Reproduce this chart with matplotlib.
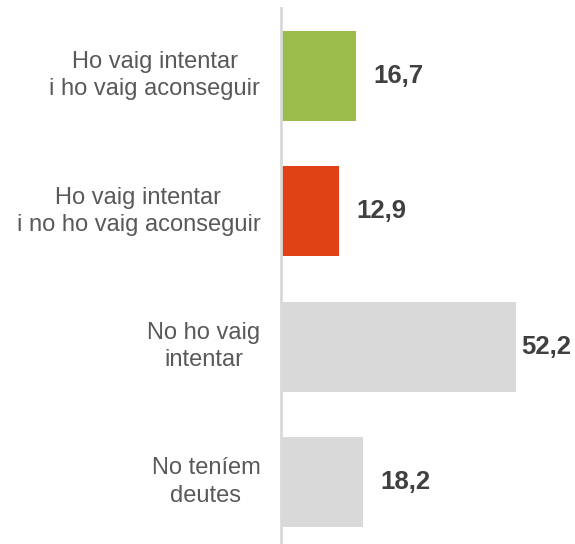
import matplotlib
matplotlib.use('Agg')
import matplotlib.pyplot as plt

categories = ['Ho vaig intentar\ni ho vaig aconseguir',
              'Ho vaig intentar\ni no ho vaig aconseguir',
              'No ho vaig\nintentar',
              'No teníem\ndeutes']
values = [16.7, 12.9, 52.2, 18.2]
labels = ['16,7', '12,9', '52,2', '18,2']
colors = ['#9BBB4A', '#E04216', '#D9D9D9', '#D9D9D9']

plt.rcParams['font.family'] = ['Liberation Sans', 'DejaVu Sans']

fig = plt.figure(figsize=(5.75, 5.44), dpi=100)
ax = fig.add_axes([281 / 575, 0, 1 - 281 / 575, 1 - 8 / 544])

pos = list(range(len(values)))
ax.barh(pos, values, height=0.664, color=colors)
ax.set_xlim(0, 65.3)
ax.set_ylim(3.458, -0.502)

for p, v, t in zip(pos, values, labels):
    # value labels sit to the right of the bar, pulled in near the edge
    x = v + 1.1 if v > 45 else v + 3.8
    ax.text(x, p, t, va='center', ha='left', fontsize=18.5, fontweight='bold', color='#404040')

for p, c in zip(pos, categories):
    ax.text(-4.6, p, c, va='center', ha='right', multialignment='center',
            fontsize=17, color='#595959', linespacing=1.3)

for s in ['top', 'right', 'bottom']:
    ax.spines[s].set_visible(False)
ax.spines['left'].set_color('#D9D9D9')
ax.spines['left'].set_linewidth(2)
ax.set_xticks([])
ax.set_yticks([])

fig.savefig('out.png', dpi=100)
